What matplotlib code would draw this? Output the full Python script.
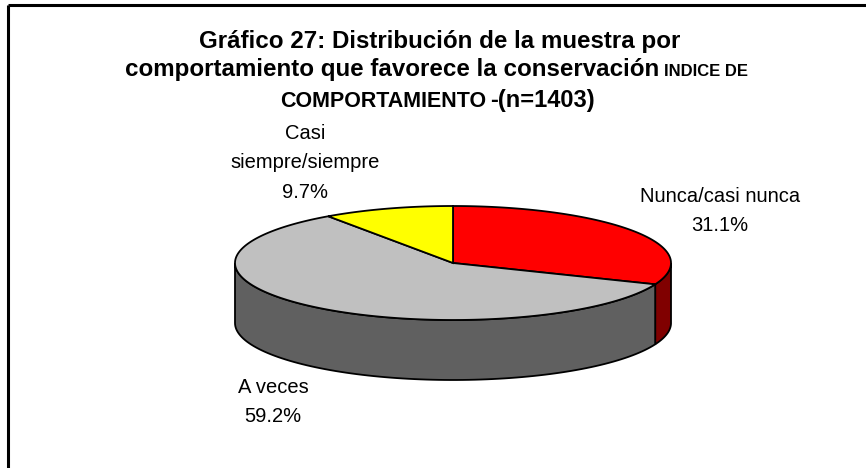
import numpy as np
import matplotlib
matplotlib.use('Agg')
import matplotlib.pyplot as plt
from matplotlib.patches import Polygon

plt.rcParams['font.family'] = ['Liberation Sans', 'DejaVu Sans']

labels = ['Nunca/casi nunca', 'A veces', 'Casi\nsiempre/siempre']
values = [31.1, 59.2, 9.7]
top_colors = ['#FF0000', '#C0C0C0', '#FFFF00']
side_colors = ['#800000', '#606060', '#808000']

W, H = 866, 468
fig = plt.figure(figsize=(W / 100, H / 100), dpi=100)
ax = fig.add_axes([0, 0, 1, 1])
ax.set_xlim(0, W)
ax.set_ylim(H, 0)
ax.axis('off')

# pie geometry (pixels)
cx, cy = 453, 263
a, b = 218, 57
depth = 60


def pt(theta, dy=0):
    return cx + a * np.cos(theta), cy - b * np.sin(theta) + dy


fracs = np.array(values) / sum(values)
# excel style: start at 12 o'clock, clockwise
starts = np.pi / 2 - 2 * np.pi * np.concatenate([[0], np.cumsum(fracs)[:-1]])
ends = starts - 2 * np.pi * fracs

# side walls (front half only)
for s, e, col in zip(starts, ends, side_colors):
    lo, hi = max(e, -np.pi), min(s, 0)
    if hi <= lo:
        continue
    th = np.linspace(hi, lo, 100)
    x, y = pt(th)
    xb, yb = pt(th[::-1], depth)
    poly = np.column_stack([np.concatenate([x, xb]), np.concatenate([y, yb])])
    ax.add_patch(Polygon(poly, closed=True, fc=col, ec='black', lw=1.3))

# top faces
for s, e, col in zip(starts, ends, top_colors):
    th = np.linspace(s, e, 200)
    x, y = pt(th)
    poly = np.column_stack([np.concatenate([[cx], x]), np.concatenate([[cy], y])])
    ax.add_patch(Polygon(poly, closed=True, fc=col, ec='black', lw=1.3))

# data labels
lab_font = dict(fontsize=14.5, color='black', linespacing=1.7, ha='center', va='center')
ax.text(720, 211, '%s\n%.1f%%' % (labels[0], values[0]), **lab_font)
ax.text(273, 402, '%s\n%.1f%%' % (labels[1], values[1]), **lab_font)
ax.text(305, 163, '%s\n%.1f%%' % (labels[2], values[2]), **lab_font)

# title
tkw = dict(fontweight='bold', ha='center', va='baseline', color='black')
ax.text(440, 48, 'Gráfico 27: Distribución de la muestra por', fontsize=17.4, **tkw)
ax.text(392, 76, 'comportamiento que favorece la conservación', fontsize=17.4, **tkw)
ax.text(706, 76, 'INDICE DE', fontsize=12, **tkw)
ax.text(383, 107, 'COMPORTAMIENTO', fontsize=15.5, **tkw)
ax.text(542, 107, '-(n=1403)', fontsize=17, **tkw)

# chart frame (top and left edges visible)
ax.plot([8, 8], [5, H], color='black', lw=2.2, solid_capstyle='butt')
ax.plot([8, W], [5, 5], color='black', lw=2.2, solid_capstyle='butt')

fig.savefig('out.png', dpi=100)
